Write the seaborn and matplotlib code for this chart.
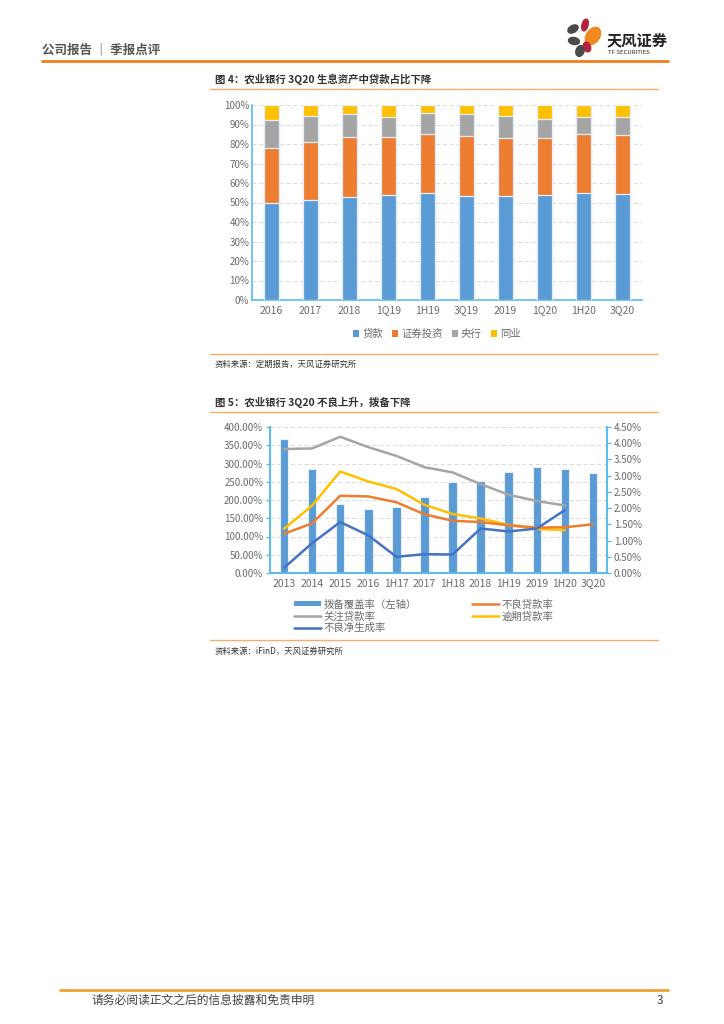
import numpy as np
import pandas as pd
import matplotlib
matplotlib.use("Agg")
import matplotlib.pyplot as plt
from matplotlib.patches import Patch, Ellipse
from matplotlib.lines import Line2D
from matplotlib.ticker import FuncFormatter, MultipleLocator
import seaborn as sns

sns.set_theme(style="white")
plt.rcParams['font.family'] = ['Noto Sans CJK SC', 'DejaVu Sans']
plt.rcParams['axes.unicode_minus'] = False

# ---- data: figure 4 (asset mix, %) ----
periods1 = ['2016', '2017', '2018', '1Q19', '1H19', '3Q19', '2019', '1Q20', '1H20', '3Q20']
loans = [49.9, 51.1, 52.8, 53.9, 54.7, 53.2, 53.2, 54.0, 55.1, 54.2]
securities = [28.0, 29.9, 30.6, 29.6, 30.4, 30.8, 30.0, 29.2, 30.0, 30.4]
central_bank = [14.2, 13.3, 12.0, 10.5, 11.0, 11.4, 11.0, 9.6, 8.9, 9.4]
interbank = [7.9, 5.7, 4.6, 6.0, 3.9, 4.6, 5.8, 7.2, 6.0, 6.0]
names1 = ['贷款', '证券投资', '央行', '同业']

# ---- data: figure 5 (asset quality, %) ----
periods2 = ['2013', '2014', '2015', '2016', '1H17', '2017', '1H18', '2018',
            '1H19', '2019', '1H20', '3Q20']
coverage = [367, 286, 190, 174, 182, 209, 248, 252, 278, 290, 286, 273]
npl_ratio = [1.21, 1.53, 2.38, 2.36, 2.18, 1.81, 1.61, 1.57, 1.47, 1.40, 1.41, 1.50]
special_mention = [3.82, 3.84, 4.20, 3.88, 3.61, 3.26, 3.10, 2.74, 2.41, 2.22, 2.08]
overdue = [1.36, 2.08, 3.13, 2.82, 2.59, 2.10, 1.82, 1.68, 1.48, 1.36, 1.32]
npl_formation = [0.16, 0.92, 1.57, 1.16, 0.50, 0.58, 0.57, 1.37, 1.28, 1.37, 1.94]

C_BLUE = '#5B9BD5'
C_ORANGE = '#ED7D31'
C_GRAY = '#A5A5A5'
C_YELLOW = '#FFC000'
C_DBLUE = '#4472C4'
C_SPINE = '#55BDEE'
C_TICK = '#6B6B6B'
C_GRID = '#D9D9D9'

W, H = 724, 1024
fig = plt.figure(figsize=(W / 100, H / 100), dpi=100)
fig.patch.set_facecolor('white')


def fx(px):
    return px / W


def fy(py):
    return 1 - py / H


def hline(x0, x1, y, color, lw):
    fig.add_artist(Line2D([fx(x0), fx(x1)], [fy(y), fy(y)], color=color, lw=lw,
                          transform=fig.transFigure))


def px_axes(left, top, right, bottom):
    return fig.add_axes([fx(left), fy(bottom), (right - left) / W, (bottom - top) / H])


# ---- page header ----
fig.text(fx(42), fy(50), '公司报告 ｜ 季报点评', fontsize=9, color='#555555',
         va='center', ha='left', fontweight='bold')
hline(42, 668, 61, '#F07F1A', 2.0)

logo = px_axes(560, 16, 606, 60)
logo.set_xlim(560, 606)
logo.set_ylim(60, 16)
logo.set_aspect('equal')
logo.axis('off')
for (cx, cy, w, h, ang, col) in [(573, 29, 11, 7, -30, '#4A4A4A'),
                                 (585, 25, 6, 12, 15, '#B3243C'),
                                 (593, 36, 13, 19, 35, '#F0891E'),
                                 (574, 41, 11, 7, 10, '#4A4A4A'),
                                 (587, 47, 7, 10, -20, '#B3243C'),
                                 (580, 51, 8, 11, 20, '#4A4A4A')]:
    logo.add_patch(Ellipse((cx, cy), w, h, angle=ang, color=col))
fig.text(fx(607), fy(40), '天风证券', fontsize=11, color='#222222', va='center',
         ha='left', fontweight='bold')
fig.text(fx(608), fy(52.5), 'TF SECURITIES', fontsize=4.3, color='#222222',
         va='center', ha='left')

# ---- figure 4 ----
fig.text(fx(215), fy(79), '图 4：农业银行 3Q20 生息资产中贷款占比下降', fontsize=7.5,
         color='#333333', va='center', ha='left', fontweight='bold')
hline(210, 658, 89, '#F6AE6A', 1.0)

ax1 = px_axes(252, 105, 642, 300)
df1 = pd.DataFrame({'period': periods1, names1[0]: loans, names1[1]: securities,
                    names1[2]: central_bank, names1[3]: interbank})
cum = df1[names1].cumsum(axis=1)
colors1 = [C_BLUE, C_ORANGE, C_GRAY, C_YELLOW]
for name, col in reversed(list(zip(names1, colors1))):
    sns.barplot(x=df1['period'], y=cum[name], color=col, saturation=1, width=0.41,
                edgecolor='#E6EEF8', linewidth=0.9, ax=ax1, zorder=3)
ax1.set_ylim(0, 100)
ax1.set_xlim(-0.5, len(periods1) - 0.5)
ax1.yaxis.set_major_locator(MultipleLocator(10))
ax1.yaxis.set_major_formatter(FuncFormatter(lambda v, p: f'{v:.0f}%'))
ax1.set_xlabel('')
ax1.set_ylabel('')
ax1.grid(axis='y', color=C_GRID, linestyle=(0, (4, 3)), linewidth=0.7, zorder=0)
ax1.set_axisbelow(True)
for s in ['top', 'right']:
    ax1.spines[s].set_visible(False)
for s in ['left', 'bottom']:
    ax1.spines[s].set_color(C_SPINE)
    ax1.spines[s].set_linewidth(1.2)
ax1.set_xticks(np.arange(len(periods1) + 1) - 0.5, minor=True)
ax1.tick_params(axis='x', which='major', length=0, labelsize=7.5, labelcolor=C_TICK, pad=4)
ax1.tick_params(axis='x', which='minor', length=3, color=C_SPINE, direction='out', width=1)
ax1.tick_params(axis='y', length=3, color=C_SPINE, direction='in', width=1,
                labelsize=7, labelcolor=C_TICK, pad=2)

handles1 = [Patch(facecolor=c, edgecolor='none') for c in colors1]
fig.legend(handles1, names1, loc='center', bbox_to_anchor=(fx(437), fy(334)),
           ncol=4, frameon=False, fontsize=7.5, handlelength=0.55, handleheight=0.55,
           handletextpad=0.3, columnspacing=0.9, labelcolor=C_TICK)

hline(210, 658, 354, '#F6AE6A', 1.0)
fig.text(fx(215), fy(364.5), '资料来源：定期报告，天风证券研究所', fontsize=6,
         color='#333333', va='center', ha='left')

# ---- figure 5 ----
fig.text(fx(215), fy(402), '图 5：农业银行 3Q20 不良上升，拨备下降', fontsize=7.5,
         color='#333333', va='center', ha='left', fontweight='bold')
hline(210, 658, 412, '#F6AE6A', 1.0)

ax2 = px_axes(270, 427, 607, 573)
sns.barplot(x=periods2, y=coverage, color=C_BLUE, saturation=1, width=0.3,
            edgecolor='#E6EEF8', linewidth=0.8, ax=ax2, zorder=3)
ax2.set_ylim(0, 400)
ax2.set_xlim(-0.5, len(periods2) - 0.5)
ax2.yaxis.set_major_locator(MultipleLocator(50))
ax2.yaxis.set_major_formatter(FuncFormatter(lambda v, p: f'{v:.2f}%'))
ax2.grid(axis='y', color=C_GRID, linestyle=(0, (4, 3)), linewidth=0.7, zorder=0)
ax2.set_axisbelow(True)

ax3 = ax2.twinx()
pos = np.arange(len(periods2))
for vals, col in [(special_mention, C_GRAY),
                  (overdue, C_YELLOW),
                  (npl_ratio, C_ORANGE),
                  (npl_formation, C_DBLUE)]:
    sns.lineplot(x=pos[:len(vals)], y=vals, color=col, linewidth=1.8, ax=ax3)
ax3.set_ylim(0, 4.5)
ax3.yaxis.set_major_locator(MultipleLocator(0.5))
ax3.yaxis.set_major_formatter(FuncFormatter(lambda v, p: f'{v:.2f}%'))
ax3.set_xlim(-0.5, len(periods2) - 0.5)

for a in (ax2, ax3):
    a.spines['top'].set_visible(False)
    for s in ['left', 'right', 'bottom']:
        a.spines[s].set_color(C_SPINE)
        a.spines[s].set_linewidth(1.2)
    a.tick_params(axis='y', length=3, color=C_SPINE, width=1, labelsize=7,
                  labelcolor=C_TICK, pad=2)
    a.set_xlabel('')
    a.set_ylabel('')
ax2.set_xticks(pos)
ax2.set_xticklabels(periods2)
ax2.set_xticks(np.arange(len(periods2) + 1) - 0.5, minor=True)
ax2.tick_params(axis='x', which='major', length=0, labelsize=7.5, labelcolor=C_TICK, pad=4)
ax2.tick_params(axis='x', which='minor', length=3, color=C_SPINE, direction='out', width=1)

handles2 = [Patch(facecolor=C_BLUE, edgecolor='none'),
            Line2D([], [], color=C_GRAY, lw=1.8),
            Line2D([], [], color=C_DBLUE, lw=1.8),
            Line2D([], [], color=C_ORANGE, lw=1.8),
            Line2D([], [], color=C_YELLOW, lw=1.8)]
labels2 = ['拨备覆盖率（左轴）', '关注贷款率', '不良净生成率', '不良贷款率', '逾期贷款率']
fig.legend(handles2, labels2, loc='upper left', bbox_to_anchor=(fx(287), fy(592)),
           ncol=2, frameon=False, fontsize=7.5, handlelength=2.6, handleheight=0.4,
           handletextpad=0.2, columnspacing=5.3, labelspacing=0.15, labelcolor=C_TICK,
           borderpad=0.2)

hline(210, 658, 640, '#F6AE6A', 1.0)
fig.text(fx(215), fy(651), '资料来源：iFinD，天风证券研究所', fontsize=6,
         color='#333333', va='center', ha='left')

# ---- page footer ----
hline(60, 668, 990, '#F0A030', 2.0)
fig.text(fx(92), fy(1000), '请务必阅读正文之后的信息披露和免责申明', fontsize=8.5,
         color='#444444', va='center', ha='left')
fig.text(fx(663), fy(1000), '3', fontsize=8.5, color='#444444', va='center', ha='right')

fig.savefig('out.png', dpi=100, facecolor='white')
